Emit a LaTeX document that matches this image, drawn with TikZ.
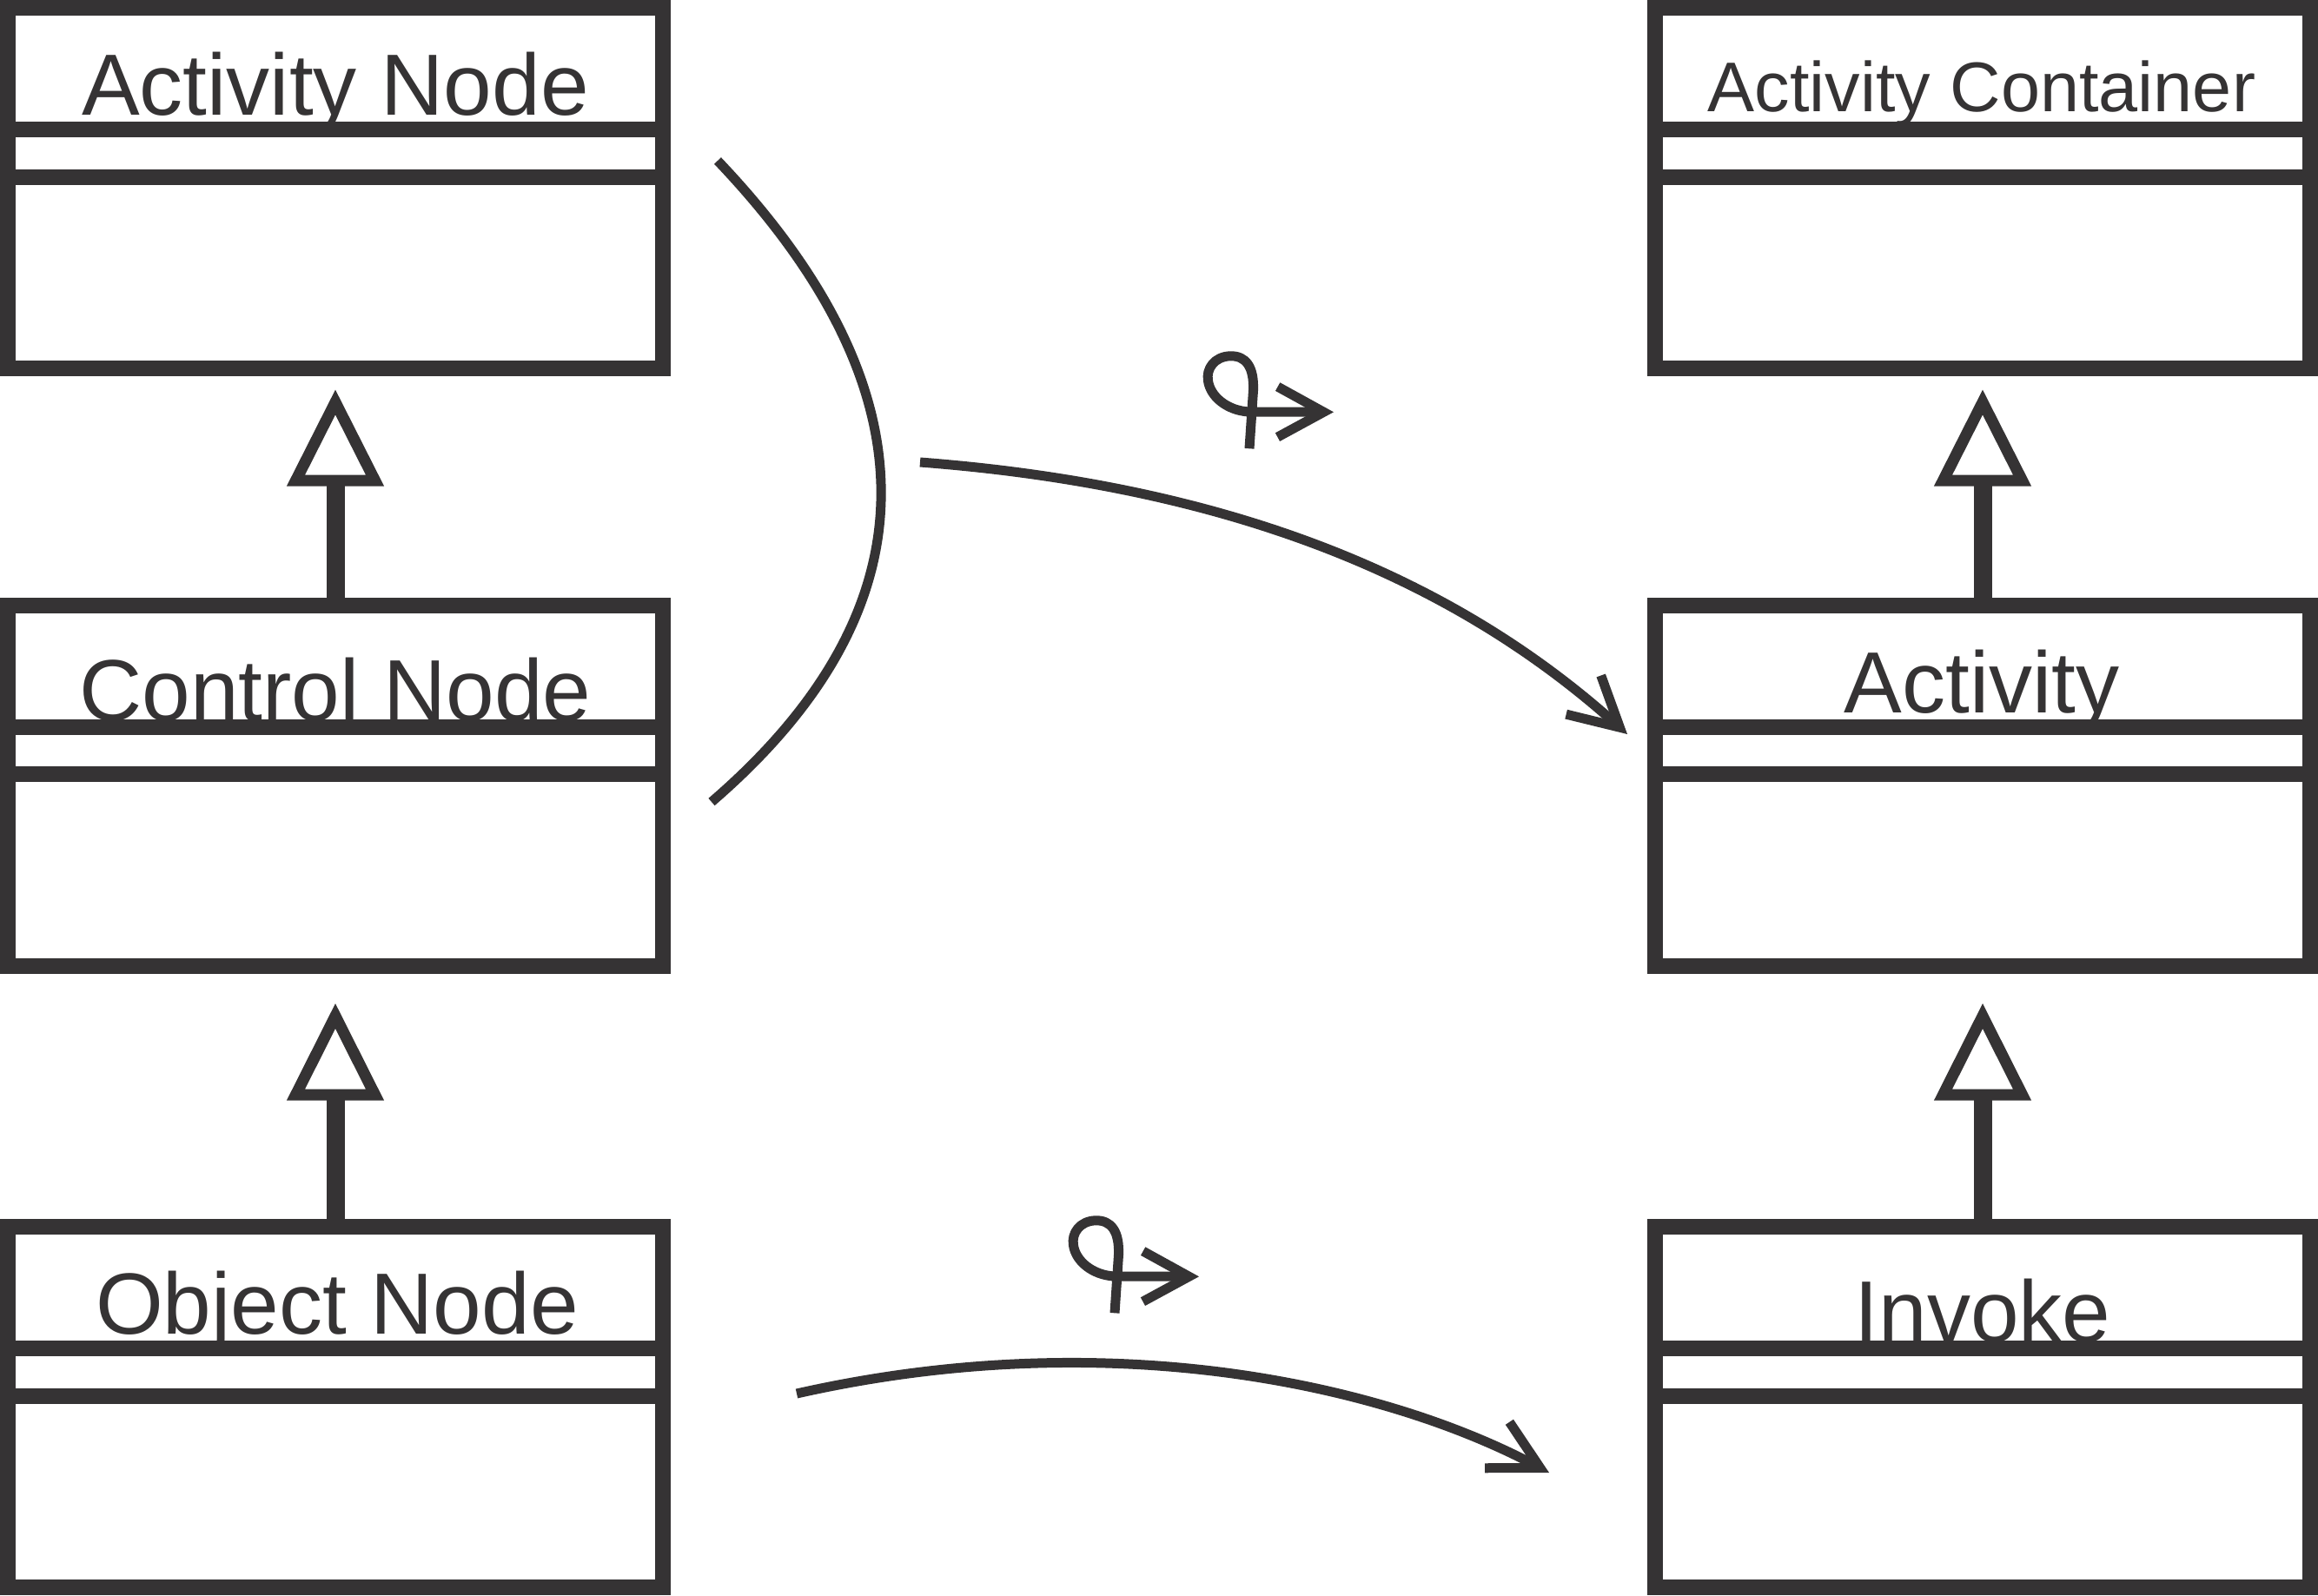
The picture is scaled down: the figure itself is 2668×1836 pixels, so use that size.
\documentclass[tikz,border=0pt]{standalone}
\usepackage{fontspec}
\setmainfont{Liberation Sans}
\usetikzlibrary{arrows.meta,calc}
\definecolor{ink}{RGB}{53,51,52}
\tikzset{
  classbox/.style={rectangle, draw=ink, line width=18pt, minimum width=754pt,
    minimum height=415pt, inner sep=0pt, outer sep=0pt},
  title/.style={anchor=base, inner sep=0pt, outer sep=0pt, text=ink,
    font=\fontsize{100pt}{120pt}\selectfont},
  smalltitle/.style={title, font=\fontsize{81pt}{96pt}\selectfont},
  sepline/.style={draw=ink, line width=18pt},
  stemline/.style={draw=ink, line width=21pt},
  gentri/.style={draw=ink, fill=white, line width=13pt, line join=miter, miter limit=10},
  curveline/.style={draw=ink, line width=11pt},
  barb/.style={-{Straight Barb[length=56pt, width=60pt]}},
  loopline/.style={draw=ink, line width=11pt, line join=round},
  looparrow/.pic={
    \draw[loopline, -{Straight Barb[length=53pt, width=58pt]}]
      (-4,42) -- (0.5,-25) .. controls (1.5,-52) and (-8,-65) .. (-26,-64.5)
      .. controls (-44,-64) and (-54,-50) .. (-51.5,-36)
      .. controls (-49,-18) and (-30,-2) .. (-5,-0.3) -- (93,0);
  }
}
\begin{document}
\begin{tikzpicture}[x=1pt, y=-1pt]
\useasboundingbox (0,0) rectangle (2668,1836);

% class boxes
\node[classbox] (an)  at (386,216.5) {};
\node[classbox] (cn)  at (386,904.25) {};
\node[classbox] (on)  at (386,1619.5) {};
\node[classbox] (ac)  at (2282,216.5) {};
\node[classbox] (act) at (2282,904.25) {};
\node[classbox] (inv) at (2282,1619.5) {};

% titles
\node[title] (anT) at (386,132) {Activity Node};
\node[smalltitle] (acT) at (2281,128) {Activity Container};
\node[title] (cnT) at (386,829) {Control Node};
\node[title] (actT) at (2281,820) {Activity};
\node[title] (onT) at (388,1535) {Object Node};
\node[title] (invT) at (2282,1544) {Invoke};

% compartment separators
\foreach \b in {an,cn,on,ac,act,inv} {
  \draw[sepline] ($(\b.north west)+(0,140)$) -- ($(\b.north east)+(0,140)$);
  \draw[sepline] ($(\b.north west)+(0,194.5)$) -- ($(\b.north east)+(0,194.5)$);
}

% generalizations
\coordinate (g1b) at (386,553);
\coordinate (g2b) at (386,1260);
\coordinate (g3b) at (2282,553);
\coordinate (g4b) at (2282,1260);
\draw[stemline] (cn.north) -- (g1b);
\draw[stemline] (on.north) -- (g2b);
\draw[stemline] (act.north) -- (g3b);
\draw[stemline] (inv.north) -- (g4b);
\draw[gentri] (386,463) -- ($(g1b)+(-45.5,0)$) -- ($(g1b)+(45.5,0)$) -- cycle;
\draw[gentri] (386,1169.5) -- ($(g2b)+(-45.5,0)$) -- ($(g2b)+(45.5,0)$) -- cycle;
\draw[gentri] (2282,463) -- ($(g3b)+(-45.5,0)$) -- ($(g3b)+(45.5,0)$) -- cycle;
\draw[gentri] (2282,1169.5) -- ($(g4b)+(-45.5,0)$) -- ($(g4b)+(45.5,0)$) -- cycle;

% grouping arc
\coordinate (arcA) at (826,185);
\coordinate (arcB) at (819,923);
\draw[curveline] (arcA) .. controls (1078,450) and (1078,700) .. (arcB);

% dependency arcs
\coordinate (d1s) at (1059,532);
\coordinate (d1e) at (1873,845);
\draw[curveline, barb] (d1s) .. controls (1439,561) and (1687,678) .. (d1e);
\coordinate (d2s) at (917,1604);
\coordinate (d2e) at (1783,1695);
\draw[curveline, barb] (d2s) .. controls (1277.8,1522.6) and (1593,1594) .. (d2e);

% loop-arrow symbols
\pic (loop1) at (1442,474.3) {looparrow};
\pic (loop2) at (1287,1469.3) {looparrow};
\end{tikzpicture}
\end{document}
